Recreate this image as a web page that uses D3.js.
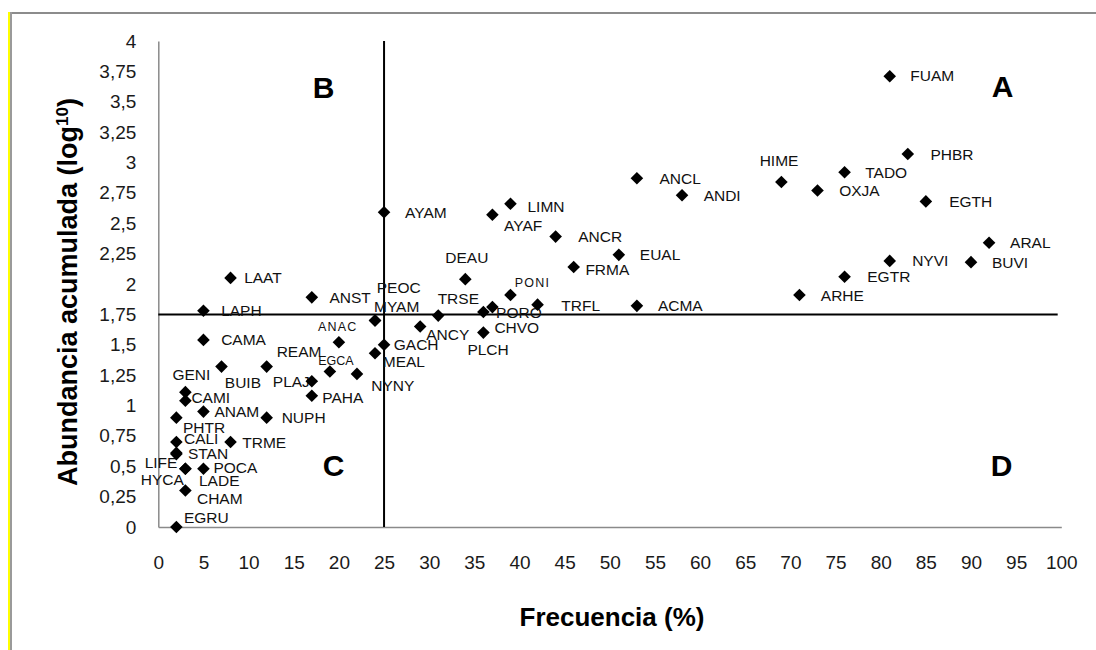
<!DOCTYPE html>
<html>
<head>
<meta charset="utf-8">
<script src="https://cdn.jsdelivr.net/npm/d3@7"></script>
<style>
  body { margin: 0; background: #fff; }
  svg { display: block; }
  text { font-family: "Liberation Sans", Arial, sans-serif; }
</style>
</head>
<body>
<svg id="chart" width="1096" height="650"></svg>
<script>
// Species codes, frequency of occurrence (%) and accumulated abundance (log10)
const species = [
  "FUAM","PHBR","TADO","HIME","OXJA","ANDI","ANCL","EGTH","ARAL","NYVI","BUVI","EGTR","ARHE","ACMA","EUAL",
  "AYAM","LIMN","AYAF","ANCR","FRMA","DEAU","PONI","ANST","TRFL","PORO","CHVO","TRSE","PEOC","MYAM","ANCY",
  "PLCH","GACH","MEAL","ANAC","EGCA","NYNY","LAAT","LAPH","CAMA","REAM","BUIB","GENI","PLAJ","PAHA","CAMI",
  "ANAM","NUPH","PHTR","CALI","TRME","STAN","LIFE","HYCA","LADE","POCA","CHAM","EGRU"
];
const frequency = [
  81, 83, 76, 69, 73, 58, 53, 85, 92, 81, 90, 76, 71, 53, 51,
  25, 39, 37, 44, 46, 34, 39, 17, 42, 37, 36, 31, 24, 24, 29,
  36, 25, 24, 20, 19, 22, 8, 5, 5, 12, 7, 3, 17, 17, 3,
  5, 12, 2, 2, 8, 2, 2, 3, 3, 5, 3, 2
];
const abundance = [
  3.71, 3.07, 2.92, 2.84, 2.77, 2.73, 2.87, 2.68, 2.34, 2.19, 2.18, 2.06, 1.91, 1.82, 2.24,
  2.59, 2.66, 2.57, 2.39, 2.14, 2.04, 1.91, 1.89, 1.83, 1.81, 1.77, 1.74, 1.70, 1.70, 1.65,
  1.60, 1.50, 1.43, 1.52, 1.28, 1.26, 2.05, 1.78, 1.54, 1.32, 1.32, 1.11, 1.20, 1.08, 1.04,
  0.95, 0.90, 0.90, 0.70, 0.70, 0.61, 0.60, 0.48, 0.48, 0.48, 0.30, 0.00
];

// Axis ticks
const xTicks = [0,5,10,15,20,25,30,35,40,45,50,55,60,65,70,75,80,85,90,95,100];
const yTicks = [0,0.25,0.5,0.75,1,1.25,1.5,1.75,2,2.25,2.5,2.75,3,3.25,3.5,3.75,4];

// Quadrant dividers
const thresholdFrequency = 25;
const thresholdAbundance = 1.75;
const quadrants = ["A","B","C","D"];

// ---- layout -------------------------------------------------------------
const W = 1096, H = 650;
const plot = { left: 158.3, right: 1061.3, top: 41, bottom: 527 };

// Quadrant letter anchors in data units
const quadrantAnchor = { A: [93.5, 3.54], B: [18.3, 3.53], C: [19.4, 0.42], D: [93.4, 0.42] };

// Label nudges (px): [text start offset x, text centre offset y]
const labelDefault = [21, 0];
const labelNudge = {
  FUAM:[20.6,-1], PHBR:[22.6,0], TADO:[20.7,0], HIME:[-21.7,-21.6], OXJA:[21.7,0], ANDI:[21.6,0],
  ANCL:[22.6,0], EGTH:[23.3,0], ARAL:[21,0], NYVI:[22.4,0], BUVI:[21,0], EGTR:[22.7,0], ARHE:[21.4,0],
  ACMA:[21,0], EUAL:[21,0], AYAM:[21,0], LIMN:[17,3], AYAF:[11.7,10.3], ANCR:[22.6,0], FRMA:[11.7,2.3],
  DEAU:[-20,-22], PONI:[4.3,-12], ANST:[17.7,0], TRFL:[23.7,0.7], PORO:[3.7,5], CHVO:[11,15.5],
  TRSE:[-0.6,-16.7], PEOC:[1.7,-32.7], MYAM:[-1,-14.3], ANCY:[6,8.3], PLCH:[-16,17.3], GACH:[9.7,0],
  MEAL:[7.7,8.3], ANAC:[-21,-15.6], EGCA:[-11.7,-10.7], NYNY:[14.3,11.7], LAAT:[13.6,-1], LAPH:[17.7,0],
  CAMA:[17.7,0], REAM:[10,-15], BUIB:[3.3,15.6], GENI:[-13,-17.4], PLAJ:[-39,0], PAHA:[10.4,1.7],
  CAMI:[6,-3.3], ANAM:[11,0], NUPH:[15,0], PHTR:[6.6,9.8], CALI:[7.6,-3.4], TRME:[11.7,0], STAN:[11.6,0.7],
  LIFE:[-31.7,8.4], HYCA:[-44.7,10.6], LADE:[13.6,12.2], POCA:[10,-1], CHAM:[11.6,8.3], EGRU:[7.6,-10]
};
const smallLabels = { PONI: 1.2, ANAC: 1.2, EGCA: 0 };

const svg = d3.select("#chart");
svg.append("rect").attr("width", W).attr("height", H).attr("fill", "#fff");

// outer frame
svg.append("line").attr("x1", 9).attr("x2", W).attr("y1", 13).attr("y2", 13)
  .attr("stroke", "#8c8c8c").attr("stroke-width", 2);
svg.append("line").attr("x1", 9).attr("x2", 9).attr("y1", 12).attr("y2", H)
  .attr("stroke", "#ffff00").attr("stroke-width", 2);
svg.append("line").attr("x1", 11).attr("x2", 11).attr("y1", 12).attr("y2", H)
  .attr("stroke", "#9a9a9a").attr("stroke-width", 2);

const x = d3.scaleLinear().domain([0, 100]).range([plot.left, plot.right]);
const y = d3.scaleLinear().domain([0, 4]).range([plot.bottom, plot.top]);
const comma = v => String(v).replace(".", ",");

// axes
const gx = svg.append("g").attr("transform", `translate(0,${plot.bottom})`)
  .call(d3.axisBottom(x).tickValues(xTicks).tickFormat(comma).tickSize(0).tickPadding(29));
const gy = svg.append("g").attr("transform", `translate(${plot.left},0)`)
  .call(d3.axisLeft(y).tickValues(yTicks).tickFormat(comma).tickSize(0).tickPadding(22));
[gx, gy].forEach(g => {
  g.select(".domain").attr("stroke", "#8a8a8a").attr("stroke-width", 1.5);
  g.selectAll("text").attr("font-size", 19).attr("fill", "#1a1a1a")
    .style("font-family", '"Liberation Sans", Arial, sans-serif');
});

// quadrant dividers
svg.append("line")
  .attr("x1", x(thresholdFrequency)).attr("x2", x(thresholdFrequency))
  .attr("y1", y(4)).attr("y2", y(0))
  .attr("stroke", "#000").attr("stroke-width", 2);
svg.append("line")
  .attr("x1", x(0)).attr("x2", x(99.6))
  .attr("y1", y(thresholdAbundance)).attr("y2", y(thresholdAbundance))
  .attr("stroke", "#000").attr("stroke-width", 2);

// quadrant letters
svg.append("g").selectAll("text").data(quadrants).join("text")
  .attr("x", d => x(quadrantAnchor[d][0]))
  .attr("y", d => y(quadrantAnchor[d][1]))
  .attr("text-anchor", "middle")
  .attr("font-size", 30).attr("font-weight", "bold").attr("fill", "#000")
  .text(d => d);

const points = species.map((s, i) => ({ name: s, f: frequency[i], a: abundance[i] }));

// point labels
const LABEL_FS = 15.5;
svg.append("g").selectAll("text").data(points).join("text")
  .attr("x", d => x(d.f) + (labelNudge[d.name] || labelDefault)[0])
  .attr("y", d => {
    const fs = d.name in smallLabels ? 12.5 : LABEL_FS;
    return y(d.a) + (labelNudge[d.name] || labelDefault)[1] + fs * 0.36;
  })
  .attr("font-size", d => d.name in smallLabels ? 12.5 : LABEL_FS)
  .attr("letter-spacing", d => d.name in smallLabels ? smallLabels[d.name] : 0)
  .attr("fill", "#111")
  .text(d => d.name);

// diamond markers
svg.append("g").selectAll("path").data(points).join("path")
  .attr("transform", d => `translate(${x(d.f)},${y(d.a)})`)
  .attr("d", "M0,-6.3L6.3,0L0,6.3L-6.3,0Z")
  .attr("fill", "#000");

// axis titles
svg.append("text")
  .attr("x", 612).attr("y", 626)
  .attr("text-anchor", "middle")
  .attr("font-size", 26).attr("font-weight", "bold").attr("fill", "#000")
  .text("Frecuencia (%)");

const yt = svg.append("text")
  .attr("transform", "translate(77,292) rotate(-90)")
  .attr("text-anchor", "middle")
  .attr("font-size", 27).attr("font-weight", "bold").attr("fill", "#000");
yt.append("tspan").text("Abundancia acumulada (log");
yt.append("tspan").attr("baseline-shift", "super").attr("font-size", 17).text("10");
yt.append("tspan").text(")");
</script>
</body>
</html>
